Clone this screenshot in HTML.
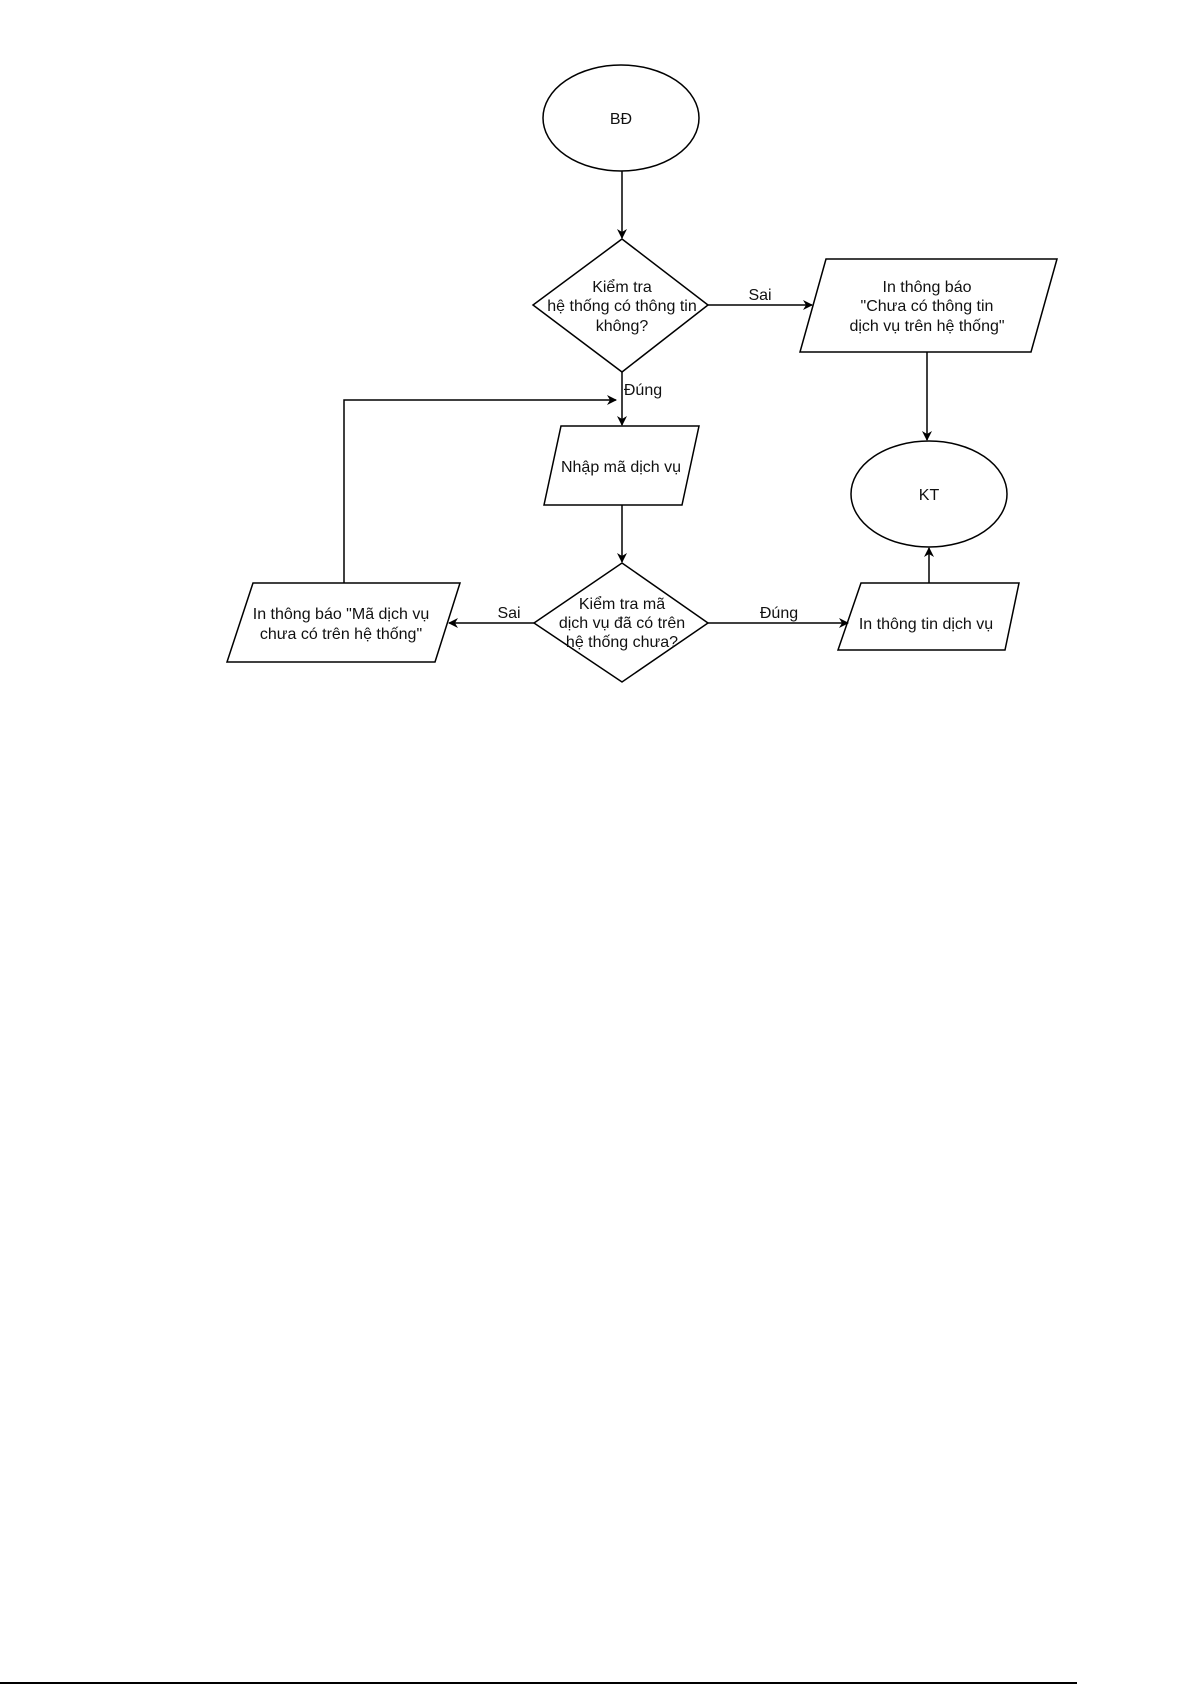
<!DOCTYPE html>
<html><head><meta charset="utf-8"><style>
html,body{margin:0;padding:0;background:#fff;}
svg text{font-family:"Liberation Sans",sans-serif;font-size:16px;fill:#111;text-anchor:middle;}
</style></head><body>
<svg width="1192" height="1685" viewBox="0 0 1192 1685" xmlns="http://www.w3.org/2000/svg">
<defs><marker id="a" markerWidth="10" markerHeight="10" refX="9" refY="5" orient="auto" markerUnits="userSpaceOnUse"><path d="M0,0 L10,5 L0,10 L3,5 z" fill="#000"/></marker></defs>
<g fill="none" stroke="#000" stroke-width="1.5">
<ellipse cx="621" cy="118" rx="78" ry="53"/>
<ellipse cx="929" cy="494" rx="78" ry="53"/>
<polygon points="622,239 708,305 622,372 533,305"/>
<polygon points="622,563 708,623 622,682 534,623"/>
<polygon points="826,259 1057,259 1031,352 800,352"/>
<polygon points="561,426 699,426 682,505 544,505"/>
<polygon points="253,583 460,583 435,662 227,662"/>
<polygon points="861,583 1019,583 1005,650 838,650"/>
<line x1="622" y1="171" x2="622" y2="238" marker-end="url(#a)"/>
<line x1="708" y1="305" x2="812" y2="305" marker-end="url(#a)"/>
<line x1="927" y1="352" x2="927" y2="440" marker-end="url(#a)"/>
<line x1="622" y1="372" x2="622" y2="425" marker-end="url(#a)"/>
<polyline points="344,583 344,400 616,400" marker-end="url(#a)"/>
<line x1="622" y1="505" x2="622" y2="562" marker-end="url(#a)"/>
<line x1="534" y1="623" x2="449" y2="623" marker-end="url(#a)"/>
<line x1="708" y1="623" x2="848" y2="623" marker-end="url(#a)"/>
<line x1="929" y1="583" x2="929" y2="548" marker-end="url(#a)"/>
</g>
<line x1="0" y1="1683" x2="1077" y2="1683" stroke="#000" stroke-width="2"/>
<text x="621" y="124">BĐ</text>
<text x="929" y="500">KT</text>
<text x="622" y="292">Kiểm tra</text>
<text x="622" y="311">hệ thống có thông tin</text>
<text x="622" y="331">không?</text>
<text x="760" y="300">Sai</text>
<text x="927" y="292">In thông báo</text>
<text x="927" y="311">"Chưa có thông tin</text>
<text x="927" y="331">dịch vụ trên hệ thống"</text>
<text x="643" y="395">Đúng</text>
<text x="621" y="472">Nhập mã dịch vụ</text>
<text x="622" y="609">Kiểm tra mã</text>
<text x="622" y="628">dịch vụ đã có trên</text>
<text x="622" y="647">hệ thống chưa?</text>
<text x="509" y="618">Sai</text>
<text x="779" y="618">Đúng</text>
<text x="341" y="619">In thông báo "Mã dịch vụ</text>
<text x="341" y="639">chưa có trên hệ thống"</text>
<text x="926" y="629">In thông tin dịch vụ</text>
</svg>
</body></html>
